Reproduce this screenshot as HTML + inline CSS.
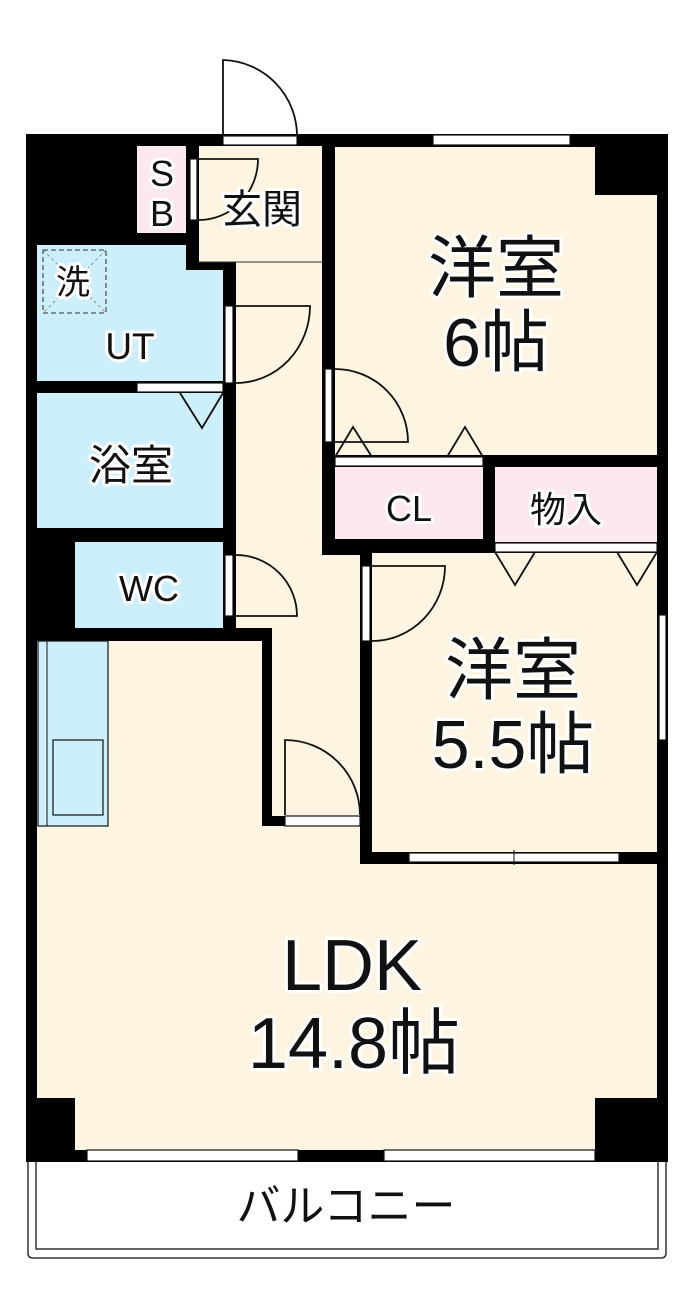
<!DOCTYPE html>
<html><head><meta charset="utf-8"><style>
html,body{margin:0;padding:0;background:#fff;}
svg{display:block;}
text{font-family:"Liberation Sans","Noto Sans CJK JP",sans-serif;fill:#111;stroke:#fff;stroke-width:6;paint-order:stroke;stroke-linejoin:round;text-anchor:middle;}
.w{fill:#fff;stroke:#111;stroke-width:1.2;}
.l{fill:none;stroke:#111;stroke-width:1.8;}
</style></head><body>
<svg width="700" height="1313" viewBox="0 0 700 1313" xmlns="http://www.w3.org/2000/svg">
<path d="M28 1160 V1253 Q28 1258 33 1258 H661 Q666 1258 666 1253 V1160" fill="#fff" stroke="#333" stroke-width="1.5"/>
<path d="M36 1160 V1249 H658 V1160" fill="none" stroke="#333" stroke-width="1.5"/>
<rect x="26" y="134" width="642" height="1028" fill="#000"/>
<g fill="#FDF5E1">
<rect x="199" y="146" width="123" height="116"/>
<rect x="236" y="262" width="86" height="293"/>
<rect x="236" y="555" width="124" height="73"/>
<rect x="272" y="628" width="88" height="198"/>
<rect x="37" y="641" width="225" height="185"/>
<rect x="37" y="826" width="323" height="38"/>
<rect x="37" y="864" width="620" height="286"/>
<rect x="335" y="147" width="322" height="308"/>
<rect x="372" y="553" width="285" height="299"/>
</g>
<rect x="595" y="147" width="62" height="48" fill="#000"/>
<rect x="26" y="1098" width="49" height="64" fill="#000"/>
<rect x="595" y="1098" width="73" height="64" fill="#000"/>
<rect x="262" y="816" width="23" height="10" fill="#000"/>
<g fill="#CDEEFB">
<rect x="37" y="245" width="149" height="136"/>
<rect x="186" y="270" width="37" height="111"/>
<rect x="37" y="393" width="186" height="135"/>
<rect x="75" y="542" width="148" height="86"/>
</g>
<g fill="#FCE8F0">
<rect x="137" y="146" width="49" height="87"/>
<rect x="335" y="467" width="148" height="72"/>
<rect x="495" y="467" width="162" height="75"/>
</g>
<rect x="38" y="641" width="70" height="185" fill="#CDEEFB" stroke="#111" stroke-width="1.2"/>
<line x1="47" y1="641" x2="47" y2="826" stroke="#111" stroke-width="1"/>
<rect x="53" y="740" width="50" height="75" fill="#CDEEFB" stroke="#111" stroke-width="1.2"/>
<rect x="43" y="250" width="63" height="63" fill="none" stroke="#555" stroke-width="1.3" stroke-dasharray="5,3"/>
<path d="M43 250 L106 313 M106 250 L43 313" stroke="#777" stroke-width="0.8" stroke-dasharray="3,3"/>
<line x1="199" y1="262" x2="322" y2="262" stroke="#333" stroke-width="1"/>
<rect class="w" x="433" y="135" width="137" height="10"/>
<rect class="w" x="659" y="615" width="7" height="125"/>
<rect class="w" x="409" y="853" width="210" height="9"/>
<line x1="514" y1="850" x2="514" y2="865" stroke="#111" stroke-width="1"/>
<rect class="w" x="87" y="1150" width="211" height="11"/>
<rect class="w" x="384" y="1150" width="211" height="11"/>
<rect class="w" x="223" y="136" width="74" height="9"/>
<rect class="w" x="190" y="159" width="7" height="61"/>
<rect class="w" x="225" y="306" width="8" height="77"/>
<rect class="w" x="325" y="369" width="7" height="73"/>
<rect class="w" x="225" y="555" width="8" height="61"/>
<rect class="w" x="362" y="566" width="8" height="75"/>
<rect class="w" x="285" y="816" width="75" height="10"/>
<rect class="w" x="137" y="383" width="86" height="9"/>
<rect class="w" x="335" y="457" width="148" height="9"/>
<rect class="w" x="495" y="543" width="162" height="9"/>
<path class="l" d="M223 136 V60 A76 76 0 0 1 297 136" fill="#fff"/>
<path class="l" d="M199 159 H258 A59 61 0 0 1 199 220"/>
<path class="l" d="M236 306 H310 A74 77 0 0 1 236 383"/>
<path class="l" d="M335 369 A73 73 0 0 1 408 442 H335"/>
<path class="l" d="M236 555 A61 61 0 0 1 297 616 H236"/>
<path class="l" d="M372 566 H445 A73 75 0 0 1 372 641"/>
<path class="l" d="M285 815 V740 A75 75 0 0 1 360 815"/>
<path class="l" stroke-width="1.3" d="M180 393 L202 428 L223 393"/>
<path class="l" stroke-width="1.3" d="M335 457 L353 427 L372 457 M447 457 L465 427 L483 457"/>
<path class="l" stroke-width="1.3" d="M495 552 L515 585 L535 552 M617 552 L637 585 L657 552"/>
<text x="162" y="186" font-size="36">S</text>
<text x="162" y="226" font-size="36">B</text>
<text x="262" y="223" font-size="40">玄関</text>
<text x="73" y="294" font-size="34">洗</text>
<text x="130" y="359" font-size="37">UT</text>
<text x="131" y="480" font-size="42">浴室</text>
<text x="149" y="601" font-size="36">WC</text>
<text x="409" y="521" font-size="36">CL</text>
<text x="566" y="522" font-size="36">物入</text>
<text x="496" y="292" font-size="68">洋室</text>
<text x="496" y="366" font-size="68">6帖</text>
<text x="513" y="694" font-size="68">洋室</text>
<text x="513" y="768" font-size="68">5.5帖</text>
<text x="352" y="990" font-size="72">LDK</text>
<text x="354" y="1068" font-size="72">14.8帖</text>
<text x="346" y="1221" font-size="44" stroke-width="0">バルコニー</text>
</svg>
</body></html>
